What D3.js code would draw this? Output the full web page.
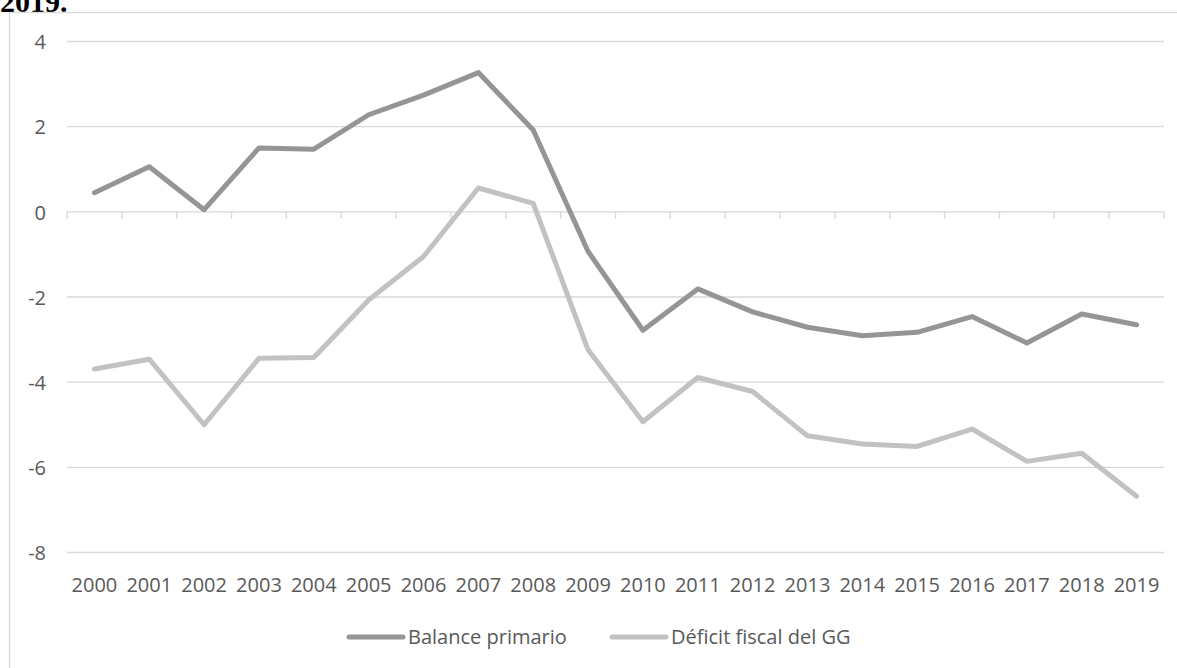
<!DOCTYPE html>
<html>
<head>
<meta charset="utf-8">
<script src="https://cdn.jsdelivr.net/npm/d3@7"></script>
<style>
  html, body { margin: 0; padding: 0; background: #fff; }
  svg { display: block; }
</style>
</head>
<body>
<svg id="chart" width="1177" height="668"></svg>
<script>
// Years on the category axis
const years = ["2000","2001","2002","2003","2004","2005","2006","2007","2008","2009",
               "2010","2011","2012","2013","2014","2015","2016","2017","2018","2019"];

// Primary balance (% of GDP)
const balancePrimario = [0.45, 1.06, 0.05, 1.50, 1.47, 2.28, 2.74, 3.27, 1.92, -0.93,
                         -2.78, -1.81, -2.35, -2.71, -2.91, -2.83, -2.46, -3.08, -2.40, -2.65];

// General government fiscal deficit (% of GDP)
const deficitFiscal = [-3.69, -3.46, -5.00, -3.44, -3.42, -2.07, -1.05, 0.56, 0.20, -3.24,
                       -4.93, -3.89, -4.22, -5.26, -5.45, -5.51, -5.10, -5.86, -5.67, -6.68];

const yTicks = [4, 2, 0, -2, -4, -6, -8];
const seriesNames = ["Balance primario", "Déficit fiscal del GG"];
const seriesColors = ["#959595", "#c2c2c2"];

const svg = d3.select("#chart");
const font = "'Open Sans', 'Noto Sans', sans-serif";
const textColor = "#595959";
const gridColor = "#d9d9d9";

// Heading fragment above the chart frame
svg.append("text")
  .attr("x", 0).attr("y", 12)
  .attr("font-family", "'Liberation Serif', 'DejaVu Serif', serif")
  .attr("font-weight", "bold")
  .attr("font-size", 30)
  .attr("fill", "#000")
  .text("2019.");

// Chart frame
svg.append("rect")
  .attr("x", 9.5).attr("y", 12.5)
  .attr("width", 1200).attr("height", 700)
  .attr("fill", "#fff")
  .attr("stroke", gridColor)
  .attr("stroke-width", 1.3);

const plot = { left: 67, right: 1164 };

const x = d3.scaleBand().domain(years).range([plot.left, plot.right]).padding(0);
const y = d3.scaleLinear().domain([-8, 4]).range([552.5, 41.5]);

// Horizontal gridlines
svg.append("g")
  .selectAll("line")
  .data(yTicks.filter(d => d !== 0))
  .join("line")
  .attr("x1", plot.left).attr("x2", plot.right)
  .attr("y1", d => y(d)).attr("y2", d => y(d))
  .attr("stroke", gridColor)
  .attr("stroke-width", 1.4);

// Y axis labels
const yAxis = d3.axisLeft(y).tickValues(yTicks).tickSize(0).tickPadding(0)
  .tickFormat(d => d3.format("d")(d).replace("−", "-"));
const gy = svg.append("g").attr("transform", `translate(${plot.left - 21},0)`).call(yAxis);
gy.select(".domain").remove();
gy.selectAll("text")
  .attr("font-family", font)
  .attr("font-size", 20)
  .attr("fill", textColor)
  .attr("dy", "0.36em");

// Category axis along zero with tick marks between categories
const boundaries = years.map(d => x(d)).concat([plot.right]);
const gx = svg.append("g");
gx.append("line")
  .attr("x1", plot.left).attr("x2", plot.right)
  .attr("y1", y(0)).attr("y2", y(0))
  .attr("stroke", gridColor).attr("stroke-width", 1.4);
gx.selectAll("line.tick")
  .data(boundaries)
  .join("line")
  .attr("class", "tick")
  .attr("x1", d => d).attr("x2", d => d)
  .attr("y1", y(0)).attr("y2", y(0) + 7)
  .attr("stroke", gridColor).attr("stroke-width", 1.4);

// Year labels below the plot
svg.append("g")
  .selectAll("text")
  .data(years)
  .join("text")
  .attr("x", d => x(d) + x.bandwidth() / 2)
  .attr("y", 592)
  .attr("text-anchor", "middle")
  .attr("font-family", font)
  .attr("font-size", 20)
  .attr("fill", textColor)
  .text(d => d);

// Lines
const line = d3.line()
  .x((d, i) => x(years[i]) + x.bandwidth() / 2)
  .y(d => y(d));

[deficitFiscal, balancePrimario].forEach((vals, k) => {
  const idx = k === 0 ? 1 : 0;
  svg.append("path")
    .datum(vals)
    .attr("d", line)
    .attr("fill", "none")
    .attr("stroke", seriesColors[idx])
    .attr("stroke-width", 5)
    .attr("stroke-linejoin", "round")
    .attr("stroke-linecap", "round");
});

// Legend
const legendItems = [
  { name: seriesNames[0], color: seriesColors[0], x0: 349 },
  { name: seriesNames[1], color: seriesColors[1], x0: 612 }
];
const lg = svg.append("g");
legendItems.forEach(it => {
  lg.append("line")
    .attr("x1", it.x0).attr("x2", it.x0 + 54)
    .attr("y1", 637).attr("y2", 637)
    .attr("stroke", it.color)
    .attr("stroke-width", 5)
    .attr("stroke-linecap", "round");
  lg.append("text")
    .attr("x", it.x0 + 59).attr("y", 644)
    .attr("font-family", font)
    .attr("font-size", 20)
    .attr("fill", textColor)
    .text(it.name);
});
</script>
</body>
</html>
